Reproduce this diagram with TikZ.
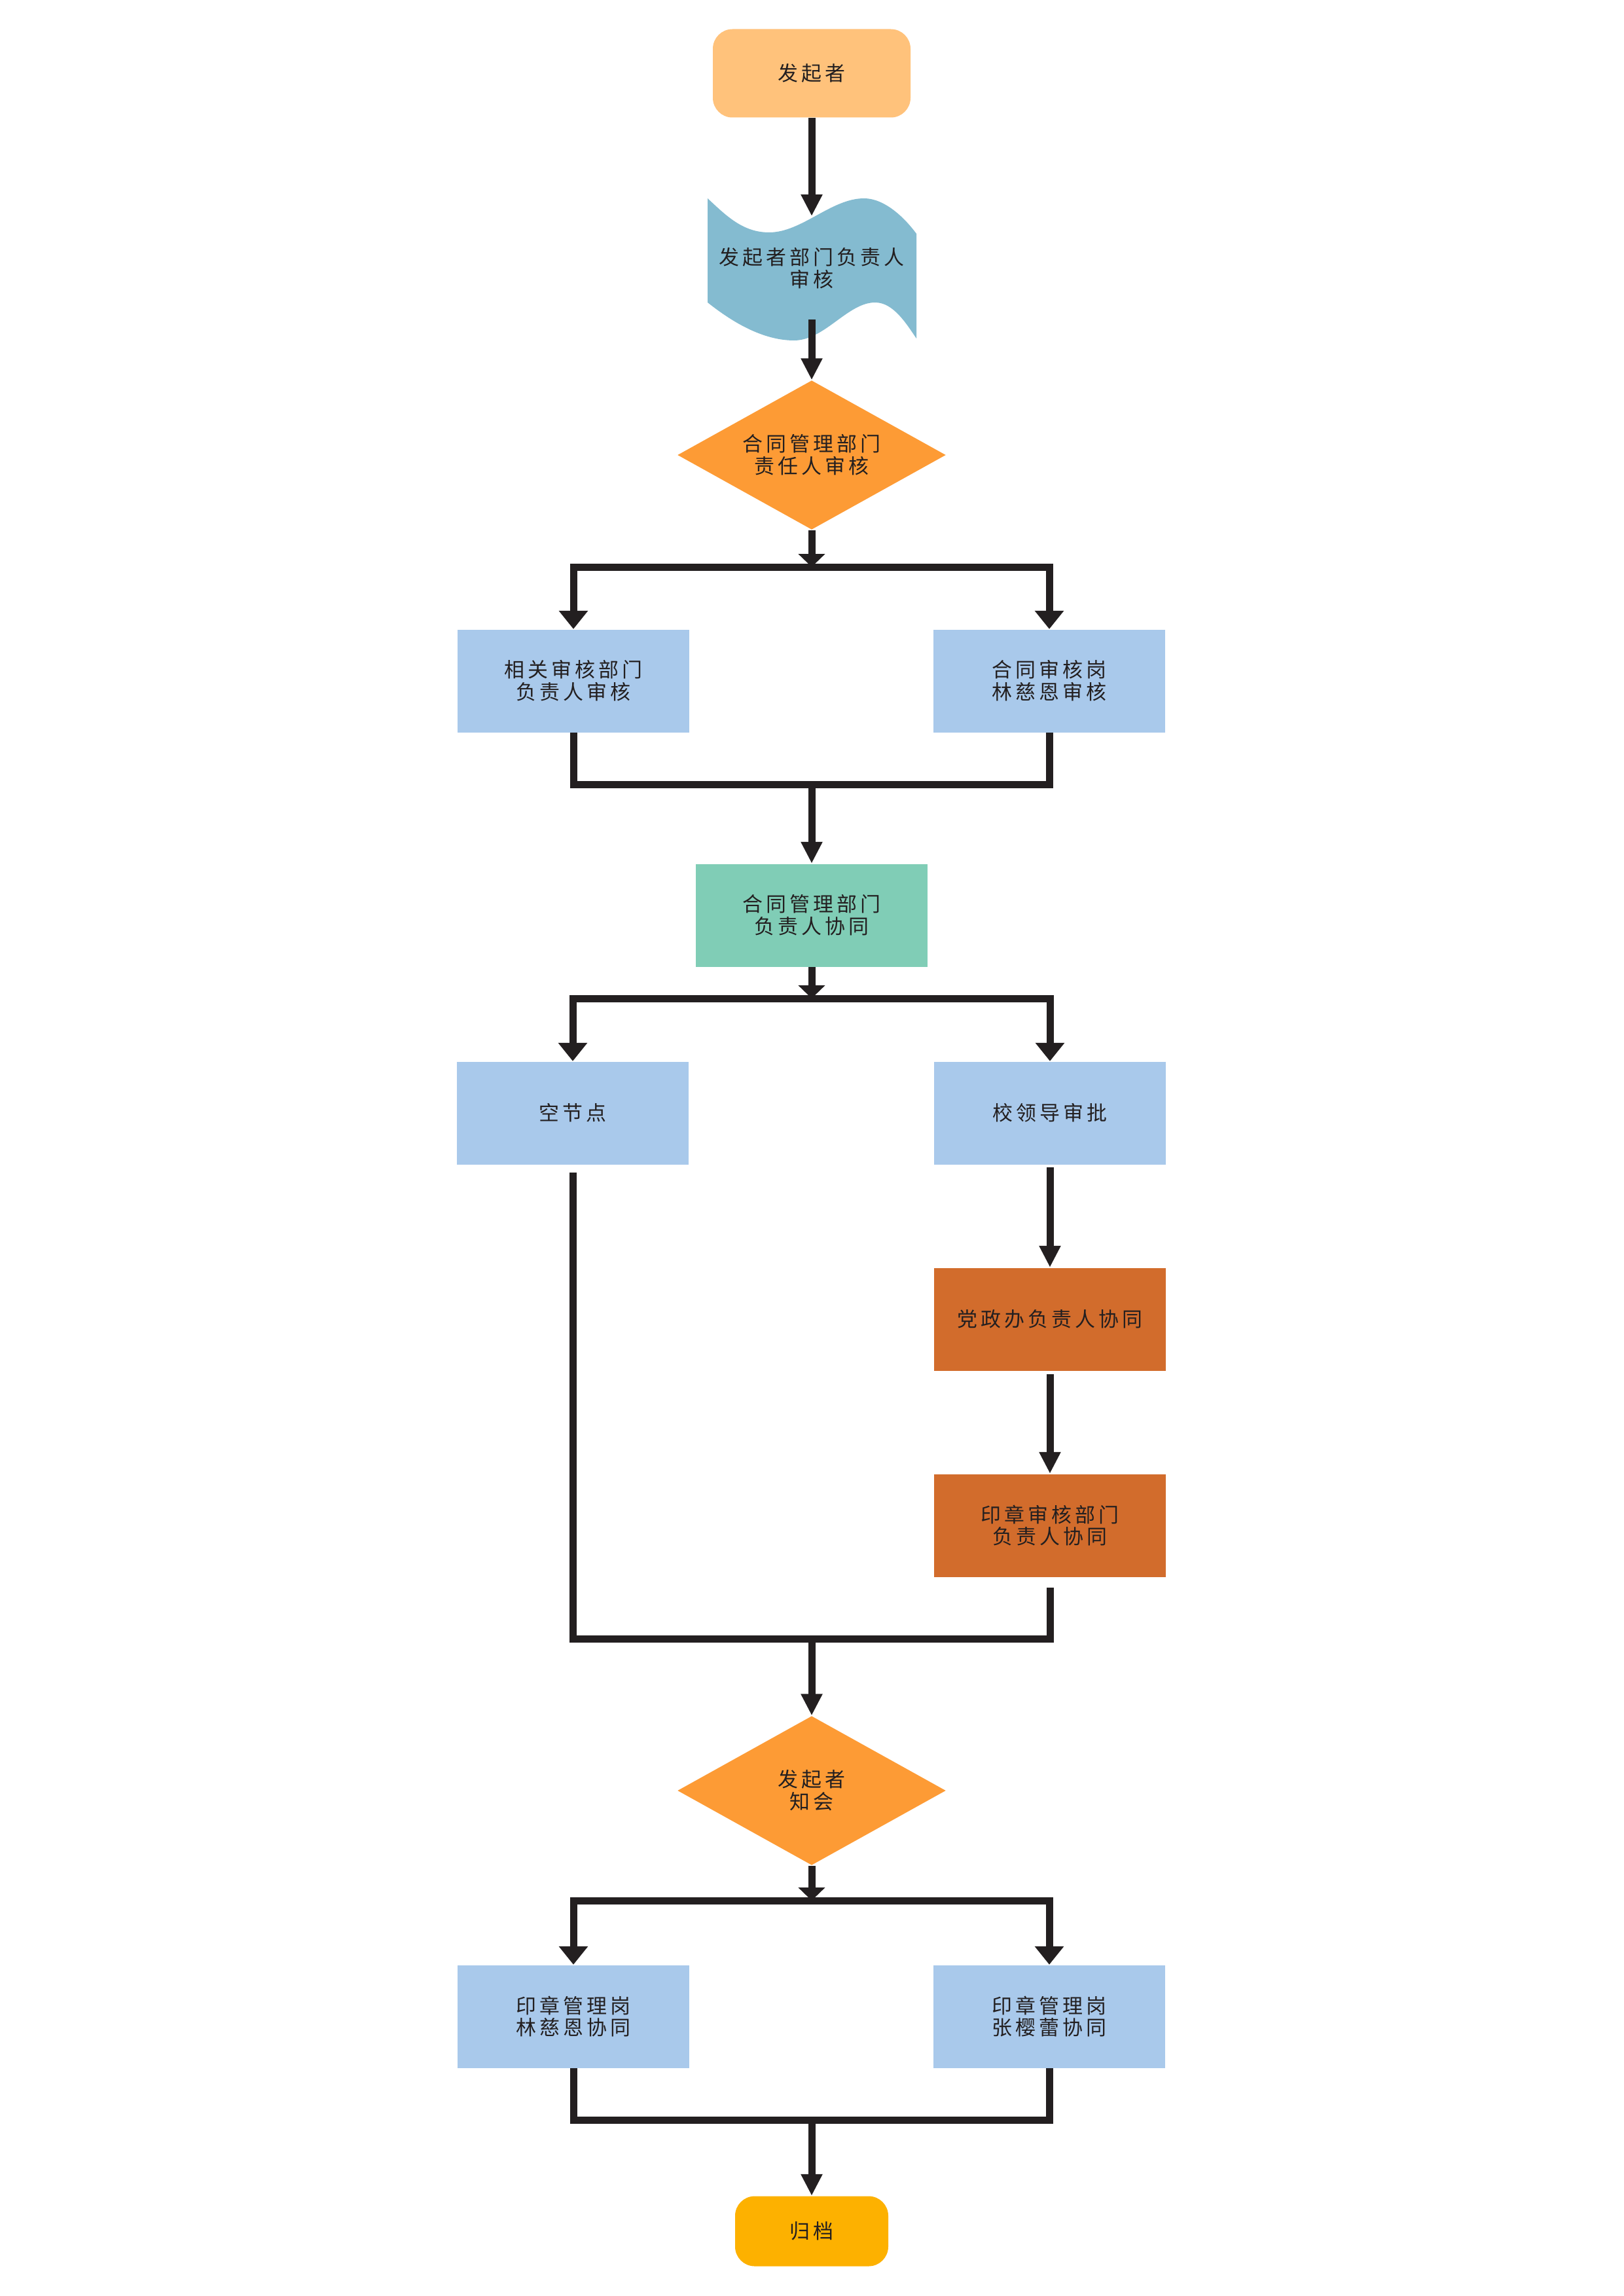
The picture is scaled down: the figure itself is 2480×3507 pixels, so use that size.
\documentclass[tikz,border=0pt]{standalone}
\usepackage{fontspec}
\newfontfamily\cjkfont[LetterSpace=16]{Noto Sans CJK SC}
\usetikzlibrary{arrows.meta,shapes.geometric}
\definecolor{startc}{HTML}{FFC27B}
\definecolor{wavec}{HTML}{84BBD0}
\definecolor{diac}{HTML}{FD9B35}
\definecolor{bluec}{HTML}{A9C9EB}
\definecolor{greenc}{HTML}{80CDB6}
\definecolor{brownc}{HTML}{D26C2C}
\definecolor{endc}{HTML}{FDB100}
\definecolor{linec}{HTML}{231F20}
\begin{document}
\begin{tikzpicture}[x=0.1mm,y=-0.1mm,
  txt/.style={align=center, inner sep=0pt, text=linec,
    font=\cjkfont\fontsize{8.8pt}{9.6pt}\selectfont},
  box/.style={txt, rectangle, fill=bluec, minimum width=35.4mm, minimum height=15.7mm},
  term/.style={txt, rectangle, rounded corners=3mm},
  dec/.style={txt, diamond, fill=diac, shape aspect=1.8, minimum width=41mm, minimum height=22.8mm},
  flow/.style={line width=1.1mm, draw=linec, line join=miter},
  arr/.style={flow, -{Triangle[length=3.3mm,width=3.1mm]}},
  brarr/.style={flow, -{Triangle[length=2.8mm,width=4.3mm]}},
  bararr/.style={flow, -{Triangle[length=2mm,width=4mm]}}
]
\fill[white] (0,0) rectangle (2480,3507);
\useasboundingbox (0,0) rectangle (2480,3507);

% nodes
\node[term, fill=startc, minimum width=30.2mm, minimum height=13.5mm] (start) at (1240,112) {发起者};

\fill[wavec] (1081,303) .. controls (1110,330) and (1135,355) .. (1175,355)
  .. controls (1225,355) and (1270,303) .. (1320,303)
  .. controls (1350,303) and (1380,330) .. (1400,357)
  -- (1400,517) .. controls (1385,495) and (1365,462) .. (1337,462)
  .. controls (1295,462) and (1260,520) .. (1213,520)
  .. controls (1160,520) and (1110,485) .. (1081,462) -- cycle;
\node[txt] (wave) at (1240,410) {发起者部门负责人\\审核};
\coordinate (wavetop) at (1240,330);
\coordinate (wavebot) at (1240,488);

\node[dec] (d1) at (1240,695) {合同管理部门\\责任人审核};
\node[box] (l1) at (876,1040) {相关审核部门\\负责人审核};
\node[box] (r1) at (1603,1040) {合同审核岗\\林慈恩审核};
\node[box, fill=greenc] (g) at (1240,1398) {合同管理部门\\负责人协同};
\node[box] (l2) at (875,1700) {空节点};
\node[box] (r2) at (1604,1700) {校领导审批};
\node[box, fill=brownc] (o1) at (1604,2015) {党政办负责人协同};
\node[box, fill=brownc] (o2) at (1604,2330) {印章审核部门\\负责人协同};
\node[dec] (d2) at (1240,2735) {发起者\\知会};
\node[box] (l3) at (876,3080) {印章管理岗\\林慈恩协同};
\node[box] (r3) at (1603,3080) {印章管理岗\\张樱蕾协同};
\node[term, fill=endc, minimum width=23.4mm, minimum height=10.7mm] (end) at (1240,3408) {归档};

% junction coordinates
\coordinate (s1) at (1240,866);
\coordinate (m1) at (1240,1198);
\coordinate (s2) at (1240,1525);
\coordinate (m3) at (1240,2503);
\coordinate (s4) at (1240,2903);
\coordinate (m4) at (1240,3238);
\coordinate (l2s) at ([yshift=-1.2mm]l2.south);
\coordinate (o2s) at ([yshift=-1.6mm]o2.south);

% connectors
\draw[arr] (start.south) -- (wavetop);
\draw[arr] (wavebot) -- (d1.north);
\draw[bararr] (d1.south) -- (s1);
\draw[brarr] (s1) -| (l1.north);
\draw[brarr] (s1) -| (r1.north);
\draw[flow] (l1.south) |- (m1) -| (r1.south);
\draw[arr] (m1) -- (g.north);
\draw[bararr] (g.south) -- (s2);
\draw[brarr] (s2) -| (l2.north);
\draw[brarr] (s2) -| (r2.north);
\draw[arr, shorten <=0.4mm] (r2.south) -- (o1.north);
\draw[arr, shorten <=0.5mm] (o1.south) -- (o2.north);
\draw[flow] (l2s) |- (m3) -| (o2s);
\draw[arr] (m3) -- (d2.north);
\draw[bararr] (d2.south) -- (s4);
\draw[brarr] (s4) -| (l3.north);
\draw[brarr] (s4) -| (r3.north);
\draw[flow] (l3.south) |- (m4) -| (r3.south);
\draw[arr] (m4) -- (end.north);
\end{tikzpicture}
\end{document}
